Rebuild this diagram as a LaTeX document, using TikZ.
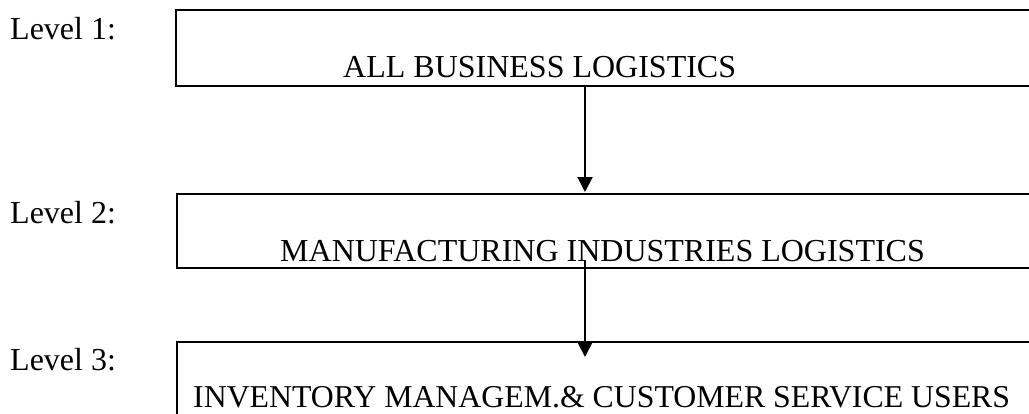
\documentclass[tikz,border=0pt]{standalone}
\usepackage{fontspec}
\setmainfont{Liberation Serif}
\usetikzlibrary{arrows.meta}

\begin{document}
\begin{tikzpicture}[x=1pt, y=-1pt,
  txt/.style={anchor=base west, inner sep=0pt, font=\fontsize{32}{38}\selectfont},
  box/.style={draw, line width=2.3pt, anchor=north west, inner sep=0pt, outer sep=0pt, minimum width=870pt},
  arr/.style={line width=2pt, -{Triangle[length=15pt, width=15pt]}}]
\useasboundingbox (0,0) rectangle (1029,413);
\clip (0,0) rectangle (1029,413);
\node [txt] (L1) at (10,39) {Level 1:};
\node [txt] (L2) at (10,223) {Level 2:};
\node [txt] (L3) at (10,370) {Level 3:};
\node [box, minimum height=76pt] (B1) at (176,10) {};
\node [box, minimum height=74pt] (B2) at (177,194) {};
\node [box, minimum height=90pt] (B3) at (177,342) {};
\node [txt] (T1) at (343,77) {ALL BUSINESS LOGISTICS};
\node [txt] (T2) at (280,261) {MANUFACTURING INDUSTRIES LOGISTICS};
\node [txt, font=\fontsize{31.8}{38}\selectfont] (T3) at (193,407) {INVENTORY MANAGEM.\& CUSTOMER SERVICE USERS};
%les fleches
\coordinate (X) at (585,0);
\coordinate (S2) at (585,260);
\coordinate (E2) at (585,357);
\draw[arr] (B1.south -| X) -- ([yshift=2pt]B2.north -| X);
\draw[arr] (S2) -- (E2);
\end{tikzpicture}
\end{document}
